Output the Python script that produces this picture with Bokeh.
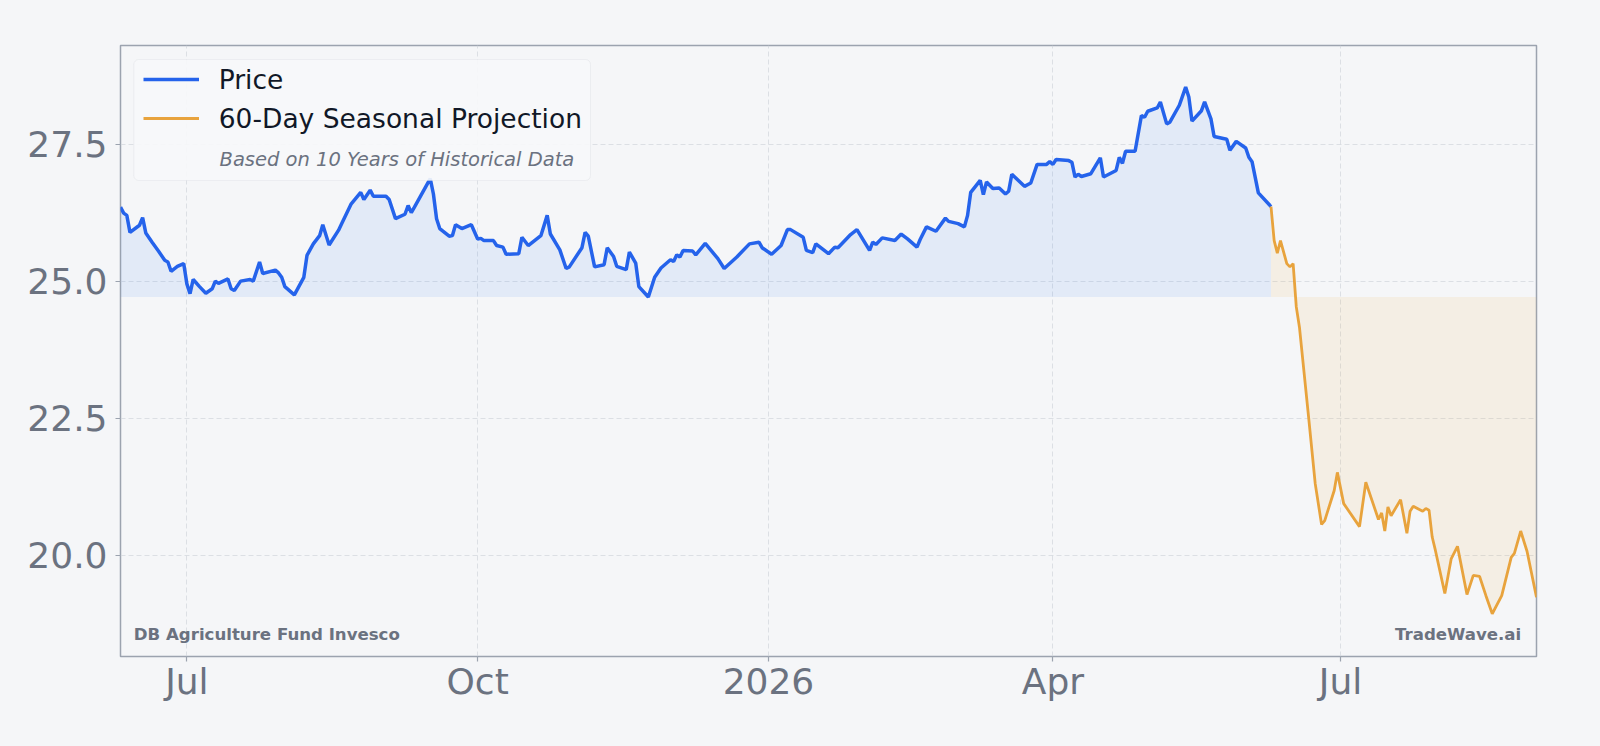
import pandas as pd
from bokeh.plotting import figure
from bokeh.models import (Range1d, FixedTicker, CustomJSTickFormatter, Legend, LegendItem,
                          BoxAnnotation, Label)
from bokeh.embed import file_html
from bokeh.resources import INLINE

# ---------------- data (calendar-day offsets from 2025-07-01) ----------------
ORIGIN = "2025-07-01"
price_days = [
    -21, -20, -19, -18, -15, -14, -13, -11, -9, -7,
    -6, -5, -3, -1, 0, 1, 2, 4, 6, 8,
    9, 10, 13, 14, 15, 17, 20, 21, 23, 24,
    28, 29, 30, 31, 34, 37, 38, 40, 42, 43,
    45, 48, 49, 52, 55, 56, 58, 59, 63, 64,
    66, 69, 70, 71, 72, 77, 78, 79, 80, 83,
    84, 85, 87, 90, 92, 93, 94, 97, 98, 100,
    101, 105, 106, 108, 112, 114, 115, 118, 120, 121,
    125, 126, 127, 129, 132, 133, 135, 136, 139, 140,
    142, 143, 146, 148, 150, 153, 154, 155, 156, 157,
    160, 161, 164, 168, 170, 174, 178, 181, 182, 185,
    188, 190, 191, 195, 196, 198, 199, 203, 205, 206,
    210, 212, 216, 217, 218, 220, 224, 226, 228, 231,
    232, 234, 237, 240, 241, 244, 246, 247, 248, 251,
    252, 253, 255, 257, 259, 260, 261, 263, 265, 267,
    269, 272, 273, 274, 275, 279, 280, 281, 282, 283,
    286, 289, 290, 294, 295, 296, 297, 300, 302, 303,
    304, 307, 308, 310, 311, 314, 316, 317, 318, 321,
    322, 324, 325, 329, 330, 332, 335, 336, 337, 339,
    343,
]
price_vals = [
    26.35, 26.24, 26.20, 25.89, 26.02, 26.16, 25.88, 25.71, 25.55, 25.38,
    25.35, 25.18, 25.27, 25.32, 24.95, 24.77, 25.03, 24.90, 24.78, 24.86,
    25.00, 24.96, 25.04, 24.86, 24.83, 25.00, 25.03, 25.00, 25.35, 25.14,
    25.20, 25.15, 25.07, 24.90, 24.75, 25.07, 25.47, 25.68, 25.83, 26.03,
    25.66, 25.93, 26.05, 26.41, 26.62, 26.49, 26.66, 26.55, 26.55, 26.49,
    26.14, 26.22, 26.38, 26.25, 26.35, 26.87, 26.59, 26.14, 25.96, 25.82,
    25.83, 26.03, 25.96, 26.03, 25.77, 25.78, 25.74, 25.74, 25.65, 25.62,
    25.49, 25.50, 25.80, 25.65, 25.83, 26.20, 25.86, 25.57, 25.23, 25.26,
    25.61, 25.89, 25.82, 25.26, 25.30, 25.61, 25.45, 25.27, 25.21, 25.53,
    25.33, 24.90, 24.71, 25.07, 25.24, 25.39, 25.36, 25.48, 25.44, 25.56,
    25.55, 25.48, 25.69, 25.41, 25.23, 25.44, 25.68, 25.71, 25.61, 25.49,
    25.65, 25.94, 25.94, 25.80, 25.56, 25.52, 25.68, 25.50, 25.62, 25.61,
    25.85, 25.94, 25.56, 25.71, 25.67, 25.79, 25.74, 25.86, 25.77, 25.62,
    25.76, 25.99, 25.91, 26.15, 26.09, 26.05, 25.99, 26.20, 26.62, 26.84,
    26.58, 26.81, 26.69, 26.70, 26.59, 26.64, 26.95, 26.84, 26.73, 26.79,
    27.13, 27.13, 27.18, 27.13, 27.22, 27.20, 27.17, 26.90, 26.95, 26.91,
    26.96, 27.25, 26.90, 27.02, 27.26, 27.15, 27.37, 27.37, 28.02, 27.99,
    28.10, 28.16, 28.27, 27.87, 27.90, 28.21, 28.54, 28.36, 27.92, 28.11,
    28.27, 27.96, 27.64, 27.59, 27.39, 27.55, 27.43, 27.26, 27.18, 26.61,
    26.36,
]
proj_days = [
    343, 344, 345, 346, 348, 349, 350, 351, 352, 355,
    357, 359, 360, 363, 364, 366, 371, 373, 377, 378,
    379, 380, 381, 384, 386, 387, 388, 391, 392, 393,
    394, 395, 398, 400, 402, 405, 407, 409, 411, 413,
    416, 419, 420, 422, 424, 427,
]
proj_vals = [
    26.36, 25.74, 25.51, 25.74, 25.32, 25.26, 25.32, 24.53, 24.16, 22.46,
    21.30, 20.56, 20.63, 21.18, 21.51, 20.94, 20.52, 21.33, 20.65, 20.77,
    20.44, 20.88, 20.72, 21.01, 20.40, 20.80, 20.89, 20.80, 20.85, 20.82,
    20.33, 20.09, 19.30, 19.93, 20.16, 19.28, 19.63, 19.61, 19.26, 18.93,
    19.26, 19.96, 20.03, 20.44, 20.07, 19.23,
]
xtick_dates = ["2025-07-01", "2025-10-01", "2026-01-01", "2026-04-01", "2026-07-01"]
xtick_labels = ["Jul", "Oct", "2026", "Apr", "Jul"]
ytick_values = [20.0, 22.5, 25.0, 27.5]
ytick_labels = ["20.0", "22.5", "25.0", "27.5"]
legend_labels = ["Price", "60-Day Seasonal Projection"]
subtitle = "Based on 10 Years of Historical Data"
left_note = "DB Agriculture Fund Invesco"
right_note = "TradeWave.ai"

# ---------------- styling ----------------
BG = "#f5f6f8"
BLUE = "#2563eb"
BLUE_FILL = "#3b82f6"
ORANGE = "#e8a33d"
GRID = "#d1d5db"
FRAME = "#9ca3af"
MUTED = "#6b7280"
DARK = "#111827"
FONT = "DejaVu Sans"

origin = pd.Timestamp(ORIGIN)
price_dates = origin + pd.to_timedelta(price_days, unit="D")
proj_dates = origin + pd.to_timedelta(proj_days, unit="D")
baseline = min(price_vals)

W, H = 1600, 746
ML, MR, MT, MB = 120, 64, 45, 90
FW, FH = W - ML - MR, H - MT - MB

p = figure(width=W, height=H, x_axis_type="datetime", output_backend="svg",
           toolbar_location=None,
           x_range=Range1d(price_dates[0], proj_dates[-1]),
           y_range=Range1d(18.15, 29.30),
           min_border_left=ML, min_border_right=MR, min_border_top=MT, min_border_bottom=MB,
           background_fill_color=BG, border_fill_color=BG,
           outline_line_color=FRAME, outline_line_width=1.5)

# fills
p.varea(x=price_dates, y1=[baseline] * len(price_vals), y2=price_vals,
        fill_color=BLUE_FILL, fill_alpha=0.1)
p.varea(x=proj_dates, y1=[baseline] * len(proj_vals), y2=proj_vals,
        fill_color=ORANGE, fill_alpha=0.1)

# lines
price_line = p.line(price_dates, price_vals, line_color=BLUE, line_width=3.5)
proj_line = p.line(proj_dates, proj_vals, line_color=ORANGE, line_width=2.8)

# axes
xt_ms = [float(pd.Timestamp(d).value // 10**6) for d in xtick_dates]
p.xaxis.ticker = FixedTicker(ticks=xt_ms)
p.xaxis.formatter = CustomJSTickFormatter(args=dict(ts=xt_ms, labels=xtick_labels), code="""
    let best = -1, bd = Infinity;
    for (let i = 0; i < ts.length; i++) { const d = Math.abs(ts[i] - tick); if (d < bd) { bd = d; best = i; } }
    return (best >= 0 && bd < 86400000) ? labels[best] : '';
""")
p.yaxis.ticker = FixedTicker(ticks=ytick_values)
p.yaxis.formatter = CustomJSTickFormatter(args=dict(ts=ytick_values, labels=ytick_labels), code="""
    let best = -1, bd = Infinity;
    for (let i = 0; i < ts.length; i++) { const d = Math.abs(ts[i] - tick); if (d < bd) { bd = d; best = i; } }
    return (best >= 0 && bd < 0.01) ? labels[best] : '';
""")
for ax in (p.xaxis, p.yaxis):
    ax.axis_line_color = None
    ax.major_tick_line_color = FRAME
    ax.major_tick_line_width = 1.2
    ax.major_tick_out = 5
    ax.major_tick_in = 0
    ax.minor_tick_line_color = None
    ax.major_label_text_font = FONT
    ax.major_label_text_font_size = "36px"
    ax.major_label_text_color = MUTED
p.xaxis.major_label_standoff = -1
p.yaxis.major_label_standoff = 8

for g in (p.xgrid, p.ygrid):
    g.grid_line_color = GRID
    g.grid_line_alpha = 0.7
    g.grid_line_dash = "5 3"
    g.grid_line_width = 1

# legend box
box = BoxAnnotation(left=13.3, right=470, top=FH - 14, bottom=FH - 135,
                    left_units="screen", right_units="screen", top_units="screen", bottom_units="screen",
                    fill_color="#f7f8fa", fill_alpha=0.9, line_color="#d4d7dd", line_width=1,
                    border_radius=5, level="annotation")
p.add_layout(box)

legend = Legend(items=[LegendItem(label=legend_labels[0], renderers=[price_line]),
                       LegendItem(label=legend_labels[1], renderers=[proj_line])],
                location=(22.7, FH - 17 - 73), padding=0, margin=0, spacing=5,
                glyph_width=56, glyph_height=34, label_height=34, label_standoff=20,
                label_text_font=FONT, label_text_font_size="26.5px", label_text_color=DARK,
                background_fill_alpha=0, border_line_alpha=0)
p.add_layout(legend)

p.add_layout(Label(x=99, y=FH - 114, x_units="screen", y_units="screen", text=subtitle,
                   text_font=FONT, text_font_style="italic", text_font_size="19.5px",
                   text_color=MUTED, text_baseline="alphabetic"))
p.add_layout(Label(x=13.3, y=22.3, x_units="screen", y_units="screen", text=left_note,
                   text_font=FONT, text_font_style="bold", text_font_size="16.6px",
                   text_color=MUTED, text_baseline="alphabetic"))
p.add_layout(Label(x=FW - 15.3, y=22.3, x_units="screen", y_units="screen", text=right_note,
                   text_font=FONT, text_font_style="bold", text_font_size="16.6px",
                   text_color=MUTED, text_baseline="alphabetic", text_align="right"))

html = file_html(p, INLINE)
html = html.replace("<head>", "<head><style>html,body{background:%s;}</style>" % BG, 1)
open("out.html", "w").write(html)
